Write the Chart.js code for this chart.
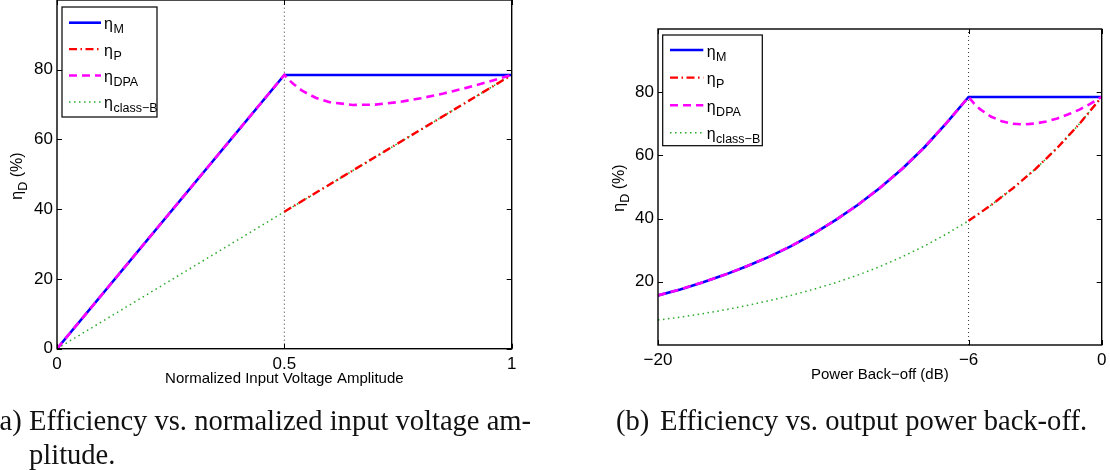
<!DOCTYPE html>
<html>
<head>
<meta charset="utf-8">
<script src="https://cdn.jsdelivr.net/npm/chart.js@4.4.0/dist/chart.umd.min.js"></script>
<style>
  html, body { margin: 0; padding: 0; background: #fff; }
  #page { position: relative; width: 1110px; height: 470px; overflow: hidden; }
  canvas { position: absolute; left: 0; top: 0; }
  .cap { position: absolute; font-family: "Liberation Serif", "DejaVu Serif", serif; font-size: 26px; color: #111; white-space: nowrap; line-height: 34px; }
</style>
</head>
<body>
<div id="page">
  <canvas id="chartA" width="1110" height="470"></canvas>
  <canvas id="chartB" width="1110" height="470"></canvas>
  <div class="cap" style="left:-10px; top:404px;">(a)</div>
  <div class="cap" id="capA1" style="left:29px; top:404px;">Efficiency vs. normalized input voltage am-</div>
  <div class="cap" style="left:29px; top:438px;">plitude.</div>
  <div class="cap" style="left:616px; top:404px;">(b)</div>
  <div class="cap" id="capB" style="left:660px; top:404px;">Efficiency vs. output power back-off.</div>
</div>
<script>
'use strict';

// (a) efficiency vs normalized input voltage amplitude
const ampTicksX = [0, 0.5, 1];
const ampTicksY = [0, 20, 40, 60, 80];
const ampMainX = [0, 0.5, 1];
const ampMainY = [0, 78.5, 78.5];
const ampPeakX = [0.5, 1];
const ampPeakY = [39.3, 78.5];
const ampDpaX = [0, 0.5, 0.51, 0.52, 0.54, 0.57, 0.6, 0.65, 0.7, 0.75, 0.8, 0.85, 0.9, 0.95, 1];
const ampDpaY = [0, 78.5, 77.1, 75.9, 73.9, 71.9, 70.7, 69.9, 70.0, 70.7, 71.8, 73.2, 74.8, 76.6, 78.5];
const ampClassBX = [0, 1];
const ampClassBY = [0, 78.5];
const ampMarkX = [0.5, 0.5];
const ampMarkY = [0, 100];

// (b) efficiency vs output power back-off (dB)
const dbTicksX = [-20, -6, 0];
const dbTicksY = [20, 40, 60, 80];
const dbMainX = [-20, -19, -18, -17, -16, -15, -14, -13, -12, -11, -10, -9, -8, -7, -6, 0];
const dbMainY = [15.7, 17.6, 19.8, 22.2, 24.9, 27.9, 31.3, 35.2, 39.5, 44.3, 49.7, 55.7, 62.5, 70.2, 78.5, 78.5];
const dbPeakX = [-6, -5, -4, -3, -2, -1, 0];
const dbPeakY = [39.3, 44.2, 49.6, 55.6, 62.4, 70.0, 78.5];
const dbDpaX = [-20, -19, -18, -17, -16, -15, -14, -13, -12, -11, -10, -9, -8, -7, -6,
  -5.75, -5.5, -5, -4.5, -4, -3.5, -3, -2.5, -2, -1.5, -1, -0.5, 0];
const dbDpaY = [15.7, 17.6, 19.8, 22.2, 24.9, 27.9, 31.3, 35.2, 39.5, 44.3, 49.7, 55.7, 62.5, 70.2, 78.5,
  76.4, 74.7, 72.3, 70.8, 70.0, 69.8, 70.1, 70.7, 71.7, 73.0, 74.5, 76.4, 78.5];
const dbClassBX = [-20, -19, -18, -17, -16, -15, -14, -13, -12, -11, -10, -9, -8, -7, -6, -5, -4, -3, -2, -1, 0];
const dbClassBY = [7.9, 8.8, 9.9, 11.1, 12.5, 14.0, 15.7, 17.6, 19.7, 22.1, 24.8, 27.9, 31.3, 35.1, 39.3, 44.2, 49.6, 55.6, 62.4, 70.0, 78.5];
const dbMarkX = [-6, -6];
const dbMarkY = [0, 100];

const legendSubs = ['M', 'P', 'DPA', 'class\u2212B'];

const styleM = { color: '#0000ff', width: 2.6, dash: [], order: 1 };
const styleP = { color: '#ff0000', width: 2.4, dash: [8, 3.5, 1.5, 3.5], order: 2 };
const styleDpa = { color: '#ff00ff', width: 2.6, dash: [8, 5], order: 0 };
const styleB = { color: 'rgb(40,170,40)', width: 1.5, dash: [1.5, 3.5], order: 3 };
const styleMark = { color: '#333', width: 1, dash: [1, 3], order: 5 };

const sansFont = '"Liberation Sans", Arial, Helvetica, sans-serif';

function lineSet(xs, ys, st) {
  return {
    data: xs.map((x, i) => ({ x: x, y: ys[i] })),
    borderColor: st.color,
    borderWidth: st.width,
    borderDash: st.dash,
    pointRadius: 0,
    fill: false,
    tension: 0,
    order: st.order
  };
}

function minusLabel(v) {
  return v < 0 ? '\u2212' + Math.abs(v) : String(v);
}

// frame, inner ticks, legend with subscripts and the rotated y title
const matlabBox = {
  id: 'matlabBox',
  afterDatasetsDraw(chart, args, o) {
    const ctx = chart.ctx;
    const a = chart.chartArea;
    const sx = chart.scales.x, sy = chart.scales.y;
    ctx.save();
    ctx.setLineDash([]);
    ctx.strokeStyle = '#000';
    ctx.lineWidth = 1;
    const t = 5;
    ctx.beginPath();
    sx.ticks.forEach(tk => {
      const px = Math.round(sx.getPixelForValue(tk.value)) + 0.5;
      ctx.moveTo(px, a.bottom); ctx.lineTo(px, a.bottom - t);
      ctx.moveTo(px, a.top); ctx.lineTo(px, a.top + t);
    });
    sy.ticks.forEach(tk => {
      const py = Math.round(sy.getPixelForValue(tk.value)) + 0.5;
      ctx.moveTo(a.left, py); ctx.lineTo(a.left + t, py);
      ctx.moveTo(a.right, py); ctx.lineTo(a.right - t, py);
    });
    ctx.stroke();
    ctx.lineWidth = 1.4;
    ctx.strokeRect(a.left, a.top, a.right - a.left, a.bottom - a.top);

    // legend
    const lg = o.legend;
    const bx = a.left + lg.x, by = a.top + lg.y;
    ctx.fillStyle = '#fff';
    ctx.fillRect(bx, by, lg.w, lg.h);
    ctx.lineWidth = 1.2;
    ctx.strokeRect(bx, by, lg.w, lg.h);
    lg.styles.forEach((st, i) => {
      const ry = by + lg.row0 + i * lg.rowH;
      ctx.beginPath();
      ctx.strokeStyle = st.color;
      ctx.lineWidth = st.width;
      ctx.setLineDash(st.dash);
      ctx.moveTo(a.left + lg.lx0, ry);
      ctx.lineTo(a.left + lg.lx1, ry);
      ctx.stroke();
      ctx.setLineDash([]);
      ctx.fillStyle = '#000';
      ctx.textBaseline = 'alphabetic';
      ctx.textAlign = 'left';
      ctx.font = '16px ' + sansFont;
      const tx = a.left + lg.tx;
      ctx.fillText('\u03b7', tx, ry + 6.5);
      const w = ctx.measureText('\u03b7').width;
      ctx.font = '12.5px ' + sansFont;
      ctx.fillText(legendSubs[i], tx + w + 0.5, ry + 10.5);
    });

    // y axis title
    const yt = o.ytitle;
    ctx.translate(yt.x, yt.y);
    ctx.rotate(-Math.PI / 2);
    ctx.fillStyle = '#000';
    ctx.textBaseline = 'alphabetic';
    ctx.textAlign = 'left';
    ctx.font = '16px ' + sansFont;
    const w1 = ctx.measureText('\u03b7').width;
    const w3 = ctx.measureText(' (%)').width;
    ctx.font = '12.5px ' + sansFont;
    const w2 = ctx.measureText('D').width;
    let x0 = -(w1 + w2 + w3) / 2;
    ctx.font = '16px ' + sansFont;
    ctx.fillText('\u03b7', x0, 4);
    ctx.font = '12.5px ' + sansFont;
    ctx.fillText('D', x0 + w1, 8.5);
    ctx.font = '16px ' + sansFont;
    ctx.fillText(' (%)', x0 + w1 + w2, 4);
    ctx.restore();
  }
};

function makeChart(id, p) {
  return new Chart(document.getElementById(id), {
    type: 'line',
    data: { datasets: p.datasets },
    options: {
      responsive: false,
      animation: false,
      events: [],
      layout: { padding: p.padding },
      plugins: {
        legend: { display: false },
        tooltip: { enabled: false },
        matlabBox: { legend: p.legend, ytitle: p.ytitle }
      },
      scales: {
        x: {
          type: 'linear',
          min: p.xMin, max: p.xMax,
          afterBuildTicks: s => { s.ticks = p.xTicks.map(v => ({ value: v })); },
          afterFit: s => { s.height = 40; s.paddingLeft = 0; s.paddingRight = 0; },
          grid: { display: false, drawTicks: false },
          border: { display: false },
          ticks: {
            color: '#000', padding: 5, maxRotation: 0, autoSkip: false,
            font: { family: sansFont, size: 17 },
            callback: v => minusLabel(v)
          },
          title: {
            display: true, text: p.xTitle, color: '#000',
            font: { family: sansFont, size: 15 },
            padding: { top: 0, bottom: 1 }
          }
        },
        y: {
          min: 0, max: 100,
          afterBuildTicks: s => { s.ticks = p.yTicks.map(v => ({ value: v })); },
          afterFit: s => { s.width = p.yWidth; s.paddingTop = 0; s.paddingBottom = 0; },
          grid: { display: false, drawTicks: false },
          border: { display: false },
          ticks: {
            color: '#000', padding: 4, autoSkip: false,
            font: { family: sansFont, size: 17 },
            callback: v => String(v)
          }
        }
      }
    },
    plugins: [matlabBox]
  });
}

const legendStyles = [styleM, styleP, styleDpa, styleB];

makeChart('chartA', {
  datasets: [
    lineSet(ampMainX, ampMainY, styleM),
    lineSet(ampPeakX, ampPeakY, styleP),
    lineSet(ampDpaX, ampDpaY, styleDpa),
    lineSet(ampClassBX, ampClassBY, styleB),
    lineSet(ampMarkX, ampMarkY, styleMark)
  ],
  padding: { left: 0, top: 0, right: 598.3, bottom: 81.3 },
  yWidth: 57,
  xMin: 0, xMax: 1,
  xTicks: ampTicksX, yTicks: ampTicksY,
  xTitle: 'Normalized Input Voltage Amplitude',
  legend: { x: 5, y: 7, w: 95, h: 110, row0: 15.7, rowH: 26.4, lx0: 12, lx1: 44, tx: 47, styles: legendStyles },
  ytitle: { x: 18, y: 176 }
});

makeChart('chartB', {
  datasets: [
    lineSet(dbMainX, dbMainY, styleM),
    lineSet(dbPeakX, dbPeakY, styleP),
    lineSet(dbDpaX, dbDpaY, styleDpa),
    lineSet(dbClassBX, dbClassBY, styleB),
    lineSet(dbMarkX, dbMarkY, styleMark)
  ],
  padding: { left: 600, top: 29, right: 8.3, bottom: 85 },
  yWidth: 58,
  xMin: -20, xMax: 0,
  xTicks: dbTicksX, yTicks: dbTicksY,
  xTitle: 'Power Back\u2212off (dB)',
  legend: { x: 4.7, y: 6, w: 99.6, h: 110.7, row0: 15, rowH: 27.6, lx0: 12, lx1: 45.3, tx: 48.7, styles: legendStyles },
  ytitle: { x: 620, y: 188 }
});

// fit caption size to the reference width of caption (b)
const capB = document.getElementById('capB');
const ratio = 427 / capB.getBoundingClientRect().width;
document.querySelectorAll('.cap').forEach(el => { el.style.fontSize = (26 * ratio).toFixed(2) + 'px'; });
</script>
</body>
</html>
